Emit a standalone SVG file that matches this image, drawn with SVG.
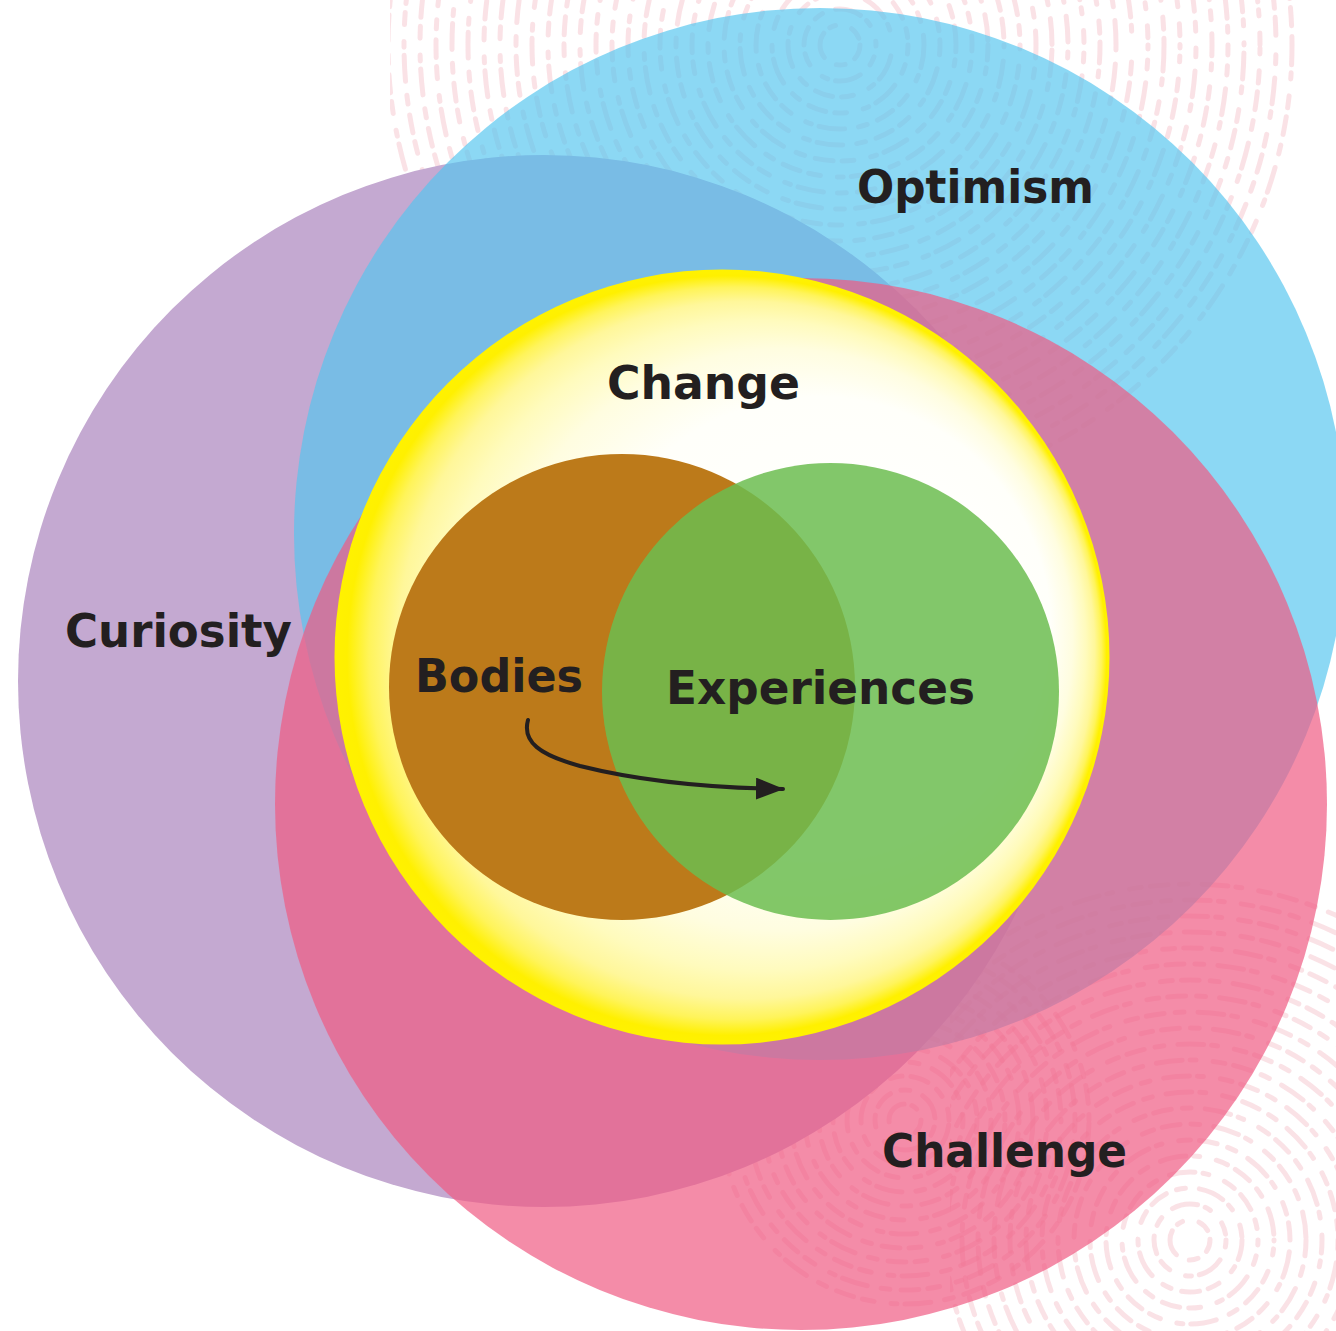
<svg xmlns="http://www.w3.org/2000/svg" width="1336" height="1331" viewBox="0 0 1336 1331">
<style>
.lbl{font-family:"DejaVu Sans","Liberation Sans",sans-serif;font-weight:bold;font-size:46px;fill:#231f20}
.fp{fill:none;stroke:#f4b9c4;stroke-width:5;stroke-dasharray:18 11 9 14 26 8 6 17 12 9;stroke-linecap:round;opacity:0.42}
</style>
<defs>
<radialGradient id="yg" cx="0.5" cy="0.5" r="0.5" fx="0.81" fy="0.41">
<stop offset="0" stop-color="#ffffff"/>
<stop offset="0.6" stop-color="#fffffa"/>
<stop offset="0.75" stop-color="#fffde0"/>
<stop offset="0.84" stop-color="#fffbbd"/>
<stop offset="0.9" stop-color="#fff79a"/>
<stop offset="0.945" stop-color="#fff45a"/>
<stop offset="0.98" stop-color="#fff000"/>
<stop offset="1" stop-color="#fff200"/>
</radialGradient>
<clipPath id="clipA"><rect x="390" y="0" width="946" height="540"/></clipPath>
<clipPath id="clipC"><rect x="950" y="800" width="386" height="531"/></clipPath>
<marker id="ah" markerUnits="userSpaceOnUse" markerWidth="30" markerHeight="22" refX="27" refY="11" orient="auto">
<path d="M0,0 L28,11 L0,22 z" fill="#231f20"/>
</marker>
</defs>
<rect width="1336" height="1331" fill="#ffffff"/>
<g id="texture">
<g clip-path="url(#clipA)">
<circle class="fp" cx="840" cy="45" r="20" stroke-dashoffset="3"/>
<circle class="fp" cx="840" cy="45" r="36" stroke-dashoffset="17"/>
<circle class="fp" cx="840" cy="45" r="52" stroke-dashoffset="41"/>
<circle class="fp" cx="840" cy="45" r="68" stroke-dashoffset="9"/>
<circle class="fp" cx="840" cy="45" r="84" stroke-dashoffset="55"/>
<circle class="fp" cx="840" cy="45" r="100" stroke-dashoffset="28"/>
<circle class="fp" cx="840" cy="45" r="116" stroke-dashoffset="71"/>
<circle class="fp" cx="840" cy="45" r="132" stroke-dashoffset="12"/>
<circle class="fp" cx="840" cy="45" r="148" stroke-dashoffset="63"/>
<circle class="fp" cx="840" cy="45" r="164" stroke-dashoffset="36"/>
<circle class="fp" cx="840" cy="45" r="180" stroke-dashoffset="88"/>
<circle class="fp" cx="840" cy="45" r="196" stroke-dashoffset="5"/>
<circle class="fp" cx="840" cy="45" r="212" stroke-dashoffset="47"/>
<circle class="fp" cx="840" cy="45" r="228" stroke-dashoffset="79"/>
<circle class="fp" cx="840" cy="45" r="244" stroke-dashoffset="21"/>
<circle class="fp" cx="840" cy="45" r="260" stroke-dashoffset="60"/>
<circle class="fp" cx="840" cy="45" r="276" stroke-dashoffset="33"/>
<circle class="fp" cx="840" cy="45" r="292" stroke-dashoffset="92"/>
<circle class="fp" cx="840" cy="45" r="308" stroke-dashoffset="14"/>
<circle class="fp" cx="840" cy="45" r="324" stroke-dashoffset="52"/>
<circle class="fp" cx="840" cy="45" r="340" stroke-dashoffset="75"/>
<circle class="fp" cx="840" cy="45" r="356" stroke-dashoffset="26"/>
<circle class="fp" cx="840" cy="45" r="372" stroke-dashoffset="67"/>
<circle class="fp" cx="840" cy="45" r="388" stroke-dashoffset="8"/>
<circle class="fp" cx="840" cy="45" r="404" stroke-dashoffset="44"/>
<circle class="fp" cx="840" cy="45" r="420" stroke-dashoffset="83"/>
<circle class="fp" cx="840" cy="45" r="436" stroke-dashoffset="19"/>
<circle class="fp" cx="840" cy="45" r="452" stroke-dashoffset="58"/>
</g>
<g>
<circle class="fp" cx="905" cy="1120" r="16" stroke-dashoffset="4"/>
<circle class="fp" cx="905" cy="1120" r="30" stroke-dashoffset="22"/>
<circle class="fp" cx="905" cy="1120" r="44" stroke-dashoffset="47"/>
<circle class="fp" cx="905" cy="1120" r="58" stroke-dashoffset="11"/>
<circle class="fp" cx="905" cy="1120" r="72" stroke-dashoffset="66"/>
<circle class="fp" cx="905" cy="1120" r="86" stroke-dashoffset="30"/>
<circle class="fp" cx="905" cy="1120" r="100" stroke-dashoffset="81"/>
<circle class="fp" cx="905" cy="1120" r="114" stroke-dashoffset="15"/>
<circle class="fp" cx="905" cy="1120" r="128" stroke-dashoffset="54"/>
<circle class="fp" cx="905" cy="1120" r="142" stroke-dashoffset="38"/>
<circle class="fp" cx="905" cy="1120" r="156" stroke-dashoffset="90"/>
<circle class="fp" cx="905" cy="1120" r="170" stroke-dashoffset="7"/>
<circle class="fp" cx="905" cy="1120" r="184" stroke-dashoffset="49"/>
</g>
<g clip-path="url(#clipC)">
<circle class="fp" cx="1190" cy="1240" r="20" stroke-dashoffset="6"/>
<circle class="fp" cx="1190" cy="1240" r="36" stroke-dashoffset="31"/>
<circle class="fp" cx="1190" cy="1240" r="52" stroke-dashoffset="58"/>
<circle class="fp" cx="1190" cy="1240" r="68" stroke-dashoffset="13"/>
<circle class="fp" cx="1190" cy="1240" r="84" stroke-dashoffset="77"/>
<circle class="fp" cx="1190" cy="1240" r="100" stroke-dashoffset="40"/>
<circle class="fp" cx="1190" cy="1240" r="116" stroke-dashoffset="2"/>
<circle class="fp" cx="1190" cy="1240" r="132" stroke-dashoffset="65"/>
<circle class="fp" cx="1190" cy="1240" r="148" stroke-dashoffset="29"/>
<circle class="fp" cx="1190" cy="1240" r="164" stroke-dashoffset="86"/>
<circle class="fp" cx="1190" cy="1240" r="180" stroke-dashoffset="18"/>
<circle class="fp" cx="1190" cy="1240" r="196" stroke-dashoffset="51"/>
<circle class="fp" cx="1190" cy="1240" r="212" stroke-dashoffset="70"/>
<circle class="fp" cx="1190" cy="1240" r="228" stroke-dashoffset="10"/>
<circle class="fp" cx="1190" cy="1240" r="244" stroke-dashoffset="43"/>
<circle class="fp" cx="1190" cy="1240" r="260" stroke-dashoffset="84"/>
<circle class="fp" cx="1190" cy="1240" r="276" stroke-dashoffset="24"/>
<circle class="fp" cx="1190" cy="1240" r="292" stroke-dashoffset="61"/>
<circle class="fp" cx="1190" cy="1240" r="308" stroke-dashoffset="37"/>
<circle class="fp" cx="1190" cy="1240" r="324" stroke-dashoffset="94"/>
<circle class="fp" cx="1190" cy="1240" r="340" stroke-dashoffset="16"/>
<circle class="fp" cx="1190" cy="1240" r="356" stroke-dashoffset="53"/>
</g>
</g>
<g id="curiosity">
<circle cx="544" cy="681" r="526" fill="#c4a9d1"/>
<text class="lbl" x="65" y="647" textLength="227" lengthAdjust="spacingAndGlyphs">Curiosity</text>
</g>
<g id="optimism">
<circle cx="820" cy="534" r="526" fill="rgb(84,197,239)" fill-opacity="0.67"/>
<text class="lbl" x="857" y="203" textLength="237" lengthAdjust="spacingAndGlyphs">Optimism</text>
</g>
<g id="challenge">
<circle cx="801" cy="804" r="526" fill="rgb(239,91,131)" fill-opacity="0.7"/>
<text class="lbl" x="882" y="1167" textLength="245" lengthAdjust="spacingAndGlyphs">Challenge</text>
</g>
<g id="change">
<circle cx="722" cy="657" r="387.5" fill="url(#yg)"/>
<text class="lbl" x="607" y="399" textLength="193" lengthAdjust="spacingAndGlyphs">Change</text>
</g>
<g id="bodies">
<circle cx="622" cy="687" r="233" fill="#bc7a1a"/>
</g>
<g id="experiences">
<circle cx="830.5" cy="691.5" r="228.5" fill="rgb(108,189,80)" fill-opacity="0.85"/>
</g>
<g id="labels">
<text class="lbl" x="415" y="692" textLength="168" lengthAdjust="spacingAndGlyphs">Bodies</text>
<text class="lbl" x="666" y="704" textLength="309" lengthAdjust="spacingAndGlyphs">Experiences</text>
</g>
<g id="connectors">
<path d="M528,720 C522,742 540,755 580,766 C640,781 710,788 783,789" fill="none" stroke="#231f20" stroke-width="4" stroke-linecap="round" marker-end="url(#ah)"/>
</g>
</svg>
